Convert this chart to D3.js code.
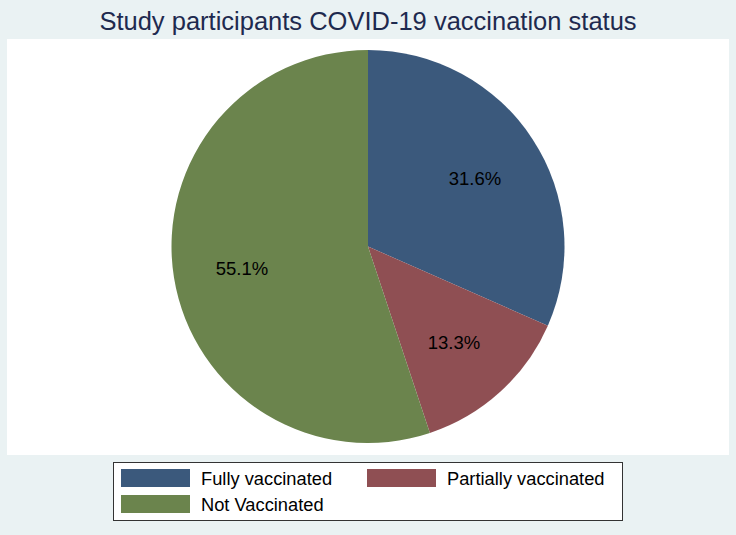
<!DOCTYPE html>
<html lang="en">
<head>
    <meta charset="UTF-8">
    <title>COVID-19 vaccination status</title>
    <script src="https://d3js.org/d3.v7.min.js"></script>
    <style>
        body { margin: 0; background: #eaf2f3; }
        text { font-family: "Liberation Sans", Arial, Helvetica, sans-serif; }
    </style>
</head>
<body>
    <div id="chart"></div>
    <script>
        // data
        var categories = ['Fully vaccinated', 'Partially vaccinated', 'Not Vaccinated'];
        var percents = [31.6, 13.3, 55.1];
        var colors = ['#3b597c', '#8f4f53', '#6b844d'];

        var width = 736, height = 535;
        var cx = 368, cy = 246.5, radius = 196.5;

        var svg = d3.select('#chart').append('svg')
            .attr('width', width)
            .attr('height', height);

        svg.append('rect')
            .attr('width', width).attr('height', height)
            .attr('fill', '#eaf2f3');

        // white plot region
        svg.append('rect')
            .attr('x', 7).attr('y', 39)
            .attr('width', 722).attr('height', 416)
            .attr('fill', '#ffffff');

        svg.append('text')
            .attr('x', width / 2)
            .attr('y', 30)
            .attr('text-anchor', 'middle')
            .attr('font-size', '25.5px')
            .attr('fill', '#1e2a4f')
            .text('Study participants COVID-19 vaccination status');

        var data = categories.map(function(c, i) {
            return { name: c, value: percents[i], color: colors[i] };
        });

        var pie = d3.pie()
            .value(function(d) { return d.value; })
            .sort(null);

        var arc = d3.arc().innerRadius(0).outerRadius(radius);
        var labelArc = d3.arc().innerRadius(radius * 0.65).outerRadius(radius * 0.65);

        var g = svg.append('g')
            .attr('transform', 'translate(' + cx + ',' + cy + ')');

        g.selectAll('path')
            .data(pie(data))
            .enter()
            .append('path')
            .attr('d', arc)
            .attr('fill', function(d) { return d.data.color; });

        g.selectAll('.lbl')
            .data(pie(data))
            .enter()
            .append('text')
            .attr('class', 'lbl')
            .attr('transform', function(d) { return 'translate(' + labelArc.centroid(d) + ')'; })
            .attr('text-anchor', 'middle')
            .attr('dy', '0.45em')
            .attr('font-size', '18.5px')
            .attr('fill', '#000')
            .text(function(d) { return d.data.value.toFixed(1) + '%'; });

        // legend
        var legend = svg.append('g');
        legend.append('rect')
            .attr('x', 113.5).attr('y', 462.5)
            .attr('width', 509).attr('height', 58)
            .attr('fill', '#fff')
            .attr('stroke', '#333')
            .attr('stroke-width', 1);

        var items = legend.selectAll('.item')
            .data(data)
            .enter()
            .append('g')
            .attr('class', 'item')
            .attr('transform', function(d, i) {
                var col = i % 2, row = Math.floor(i / 2);
                return 'translate(' + (121 + col * 246) + ',' + (469 + row * 26) + ')';
            });

        items.append('rect')
            .attr('width', 69).attr('height', 18)
            .attr('fill', function(d) { return d.color; });

        items.append('text')
            .attr('x', 80)
            .attr('y', 9)
            .attr('dy', '0.36em')
            .attr('font-size', '18.3px')
            .attr('fill', '#000')
            .text(function(d) { return d.name; });
    </script>
</body>
</html>
